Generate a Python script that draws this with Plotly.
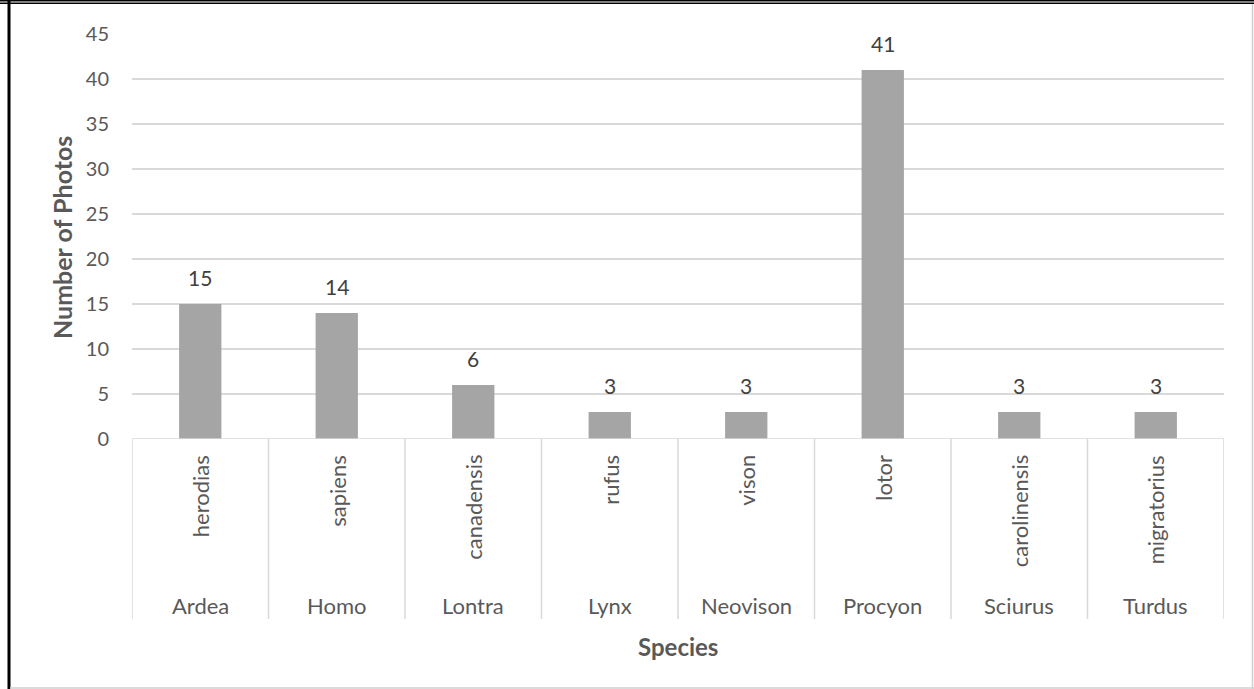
import plotly.graph_objects as go

# Photo counts per species, grouped by genus
genus = ["Ardea", "Homo", "Lontra", "Lynx", "Neovison", "Procyon", "Sciurus", "Turdus"]
species = ["herodias", "sapiens", "canadensis", "rufus", "vison", "lotor", "carolinensis", "migratorius"]
photos = [15, 14, 6, 3, 3, 41, 3, 3]
y_ticks = [0, 5, 10, 15, 20, 25, 30, 35, 40, 45]

W, H = 1254, 689
L, R, T, B = 132, 30, 34, 250
PW, PH = W - L - R, H - T - B

FONT = "Lato"
GREY_TXT = "#595959"
GRID = "#d9d9d9"


def px(x):
    return (x - L) / PW


def py(y):
    return (H - B - y) / PH


fig = go.Figure(
    go.Bar(
        x=species,
        y=photos,
        marker=dict(color="#a5a5a5", line=dict(width=0)),
        width=0.31,
        cliponaxis=False,
    )
)

annotations = []
shapes = []

# Value labels above each bar
for s, v in zip(species, photos):
    annotations.append(dict(
        x=s, xref="x", y=v, yref="y", text=str(v), showarrow=False,
        xanchor="center", yanchor="bottom", yshift=12,
        font=dict(family=FONT, size=21, color="#404040"),
    ))

# Two-level category labels under the axis
for g, s in zip(genus, species):
    annotations.append(dict(
        x=s, xref="x", y=py(453), yref="paper", text=s, textangle=-90,
        showarrow=False, xanchor="center", yanchor="top",
        font=dict(family=FONT, size=22, color=GREY_TXT),
    ))
    annotations.append(dict(
        x=s, xref="x", y=py(605), yref="paper", text=g,
        showarrow=False, xanchor="center", yanchor="middle",
        font=dict(family=FONT, size=22, color=GREY_TXT),
    ))

# Category dividers
for i in range(len(species) + 1):
    shapes.append(dict(
        type="line", xref="x", yref="paper", x0=i - 0.5, x1=i - 0.5,
        y0=0, y1=py(619), line=dict(color=GRID, width=1.5),
    ))

# Baseline
shapes.append(dict(type="line", xref="paper", yref="y", x0=0, x1=1, y0=0, y1=0,
                   line=dict(color=GRID, width=1.5)))

# Axis titles
annotations.append(dict(
    x=0.5, xref="paper", y=py(646), yref="paper", text="<b>Species</b>",
    showarrow=False, xanchor="center", yanchor="middle",
    font=dict(family=FONT, size=24, color=GREY_TXT),
))
annotations.append(dict(
    x=px(62), xref="paper", y=py(238), yref="paper", text="<b>Number of Photos</b>",
    textangle=-90, showarrow=False, xanchor="center", yanchor="middle",
    font=dict(family=FONT, size=25, color=GREY_TXT),
))

# Frame around the chart
shapes.append(dict(type="line", xref="paper", yref="paper", x0=px(0), x1=px(W),
                   y0=py(0.8), y1=py(0.8), line=dict(color="black", width=1.6)))
shapes.append(dict(type="line", xref="paper", yref="paper", x0=px(0), x1=px(W),
                   y0=py(3.2), y1=py(3.2), line=dict(color="black", width=1.6)))
shapes.append(dict(type="line", xref="paper", yref="paper", x0=px(9), x1=px(9),
                   y0=py(0), y1=py(H), line=dict(color="black", width=3)))
shapes.append(dict(type="line", xref="paper", yref="paper", x0=px(1252.5), x1=px(1252.5),
                   y0=py(4), y1=py(H), line=dict(color="#cfcfcf", width=1.5)))
shapes.append(dict(type="line", xref="paper", yref="paper", x0=px(10), x1=px(W),
                   y0=py(688), y1=py(688), line=dict(color="#cfcfcf", width=1.5)))

fig.update_layout(
    width=W, height=H,
    margin=dict(l=L, r=R, t=T, b=B, pad=0),
    paper_bgcolor="white", plot_bgcolor="white",
    showlegend=False,
    bargap=0.69,
    xaxis=dict(
        type="category", categoryorder="array", categoryarray=species,
        showticklabels=False, showgrid=False, zeroline=False, showline=False,
        ticks="", range=[-0.5, len(species) - 0.5],
    ),
    yaxis=dict(
        range=[0, 45], tickvals=y_ticks, showgrid=True, gridcolor=GRID, gridwidth=1.5,
        zeroline=False, showline=False, ticks="", ticklabelstandoff=22,
        tickfont=dict(family=FONT, size=20, color=GREY_TXT),
    ),
    annotations=annotations,
    shapes=shapes,
)

fig.write_html("out.html")
